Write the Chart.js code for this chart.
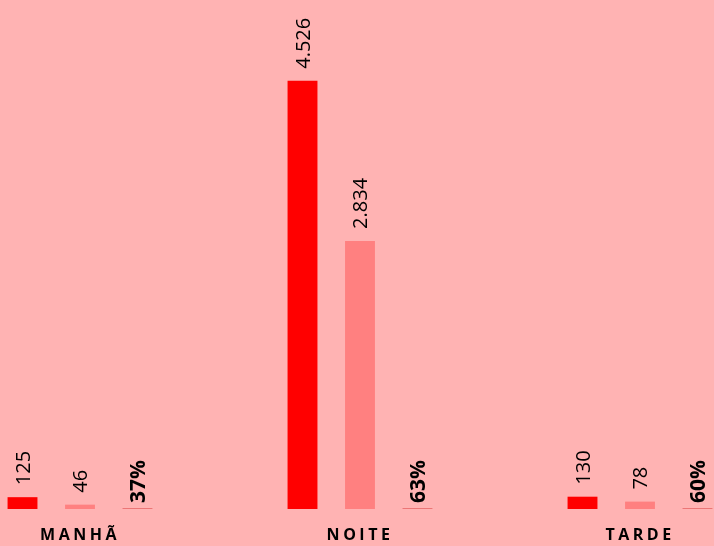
<!DOCTYPE html>
<html>
<head>
<meta charset="utf-8">
<script src="https://cdn.jsdelivr.net/npm/chart.js@4"></script>
<style>
  html, body { margin: 0; padding: 0; background: #FFB3B3; }
  #wrap { width: 714px; height: 546px; position: relative; }
</style>
</head>
<body>
<div id="wrap"><canvas id="turnos-chart"></canvas></div>
<script>
var turnos = ['MANHÃ', 'NOITE', 'TARDE'];

var total = [125, 4526, 130];
var parcial = [46, 2834, 78];
var percentual = [0.37, 0.63, 0.60];

function fmtNum(v) {
   return String(v).replace(/\B(?=(\d{3})+(?!\d))/g, '.');
}

function fmtPct(v) {
   return Math.round(v * 100) + '%';
}

// letter spaced axis labels, value labels drawn sideways over the bars
var rotLabels = {
   id: 'rotLabels',
   beforeDraw: function (chart) {
      chart.ctx.letterSpacing = '3.5px';
   },
   beforeDatasetsDraw: function (chart) {
      chart.ctx.letterSpacing = '0px';
   },
   afterDatasetsDraw: function (chart) {
      var ctx = chart.ctx;
      chart.data.datasets.forEach(function (ds, i) {
         var meta = chart.getDatasetMeta(i);
         meta.data.forEach(function (bar, j) {
            var v = ds.data[j];
            var txt = ds.pct ? fmtPct(v) : fmtNum(v);
            var size = ds.pct ? 21 : 20;
            ctx.save();
            ctx.letterSpacing = '0px';
            ctx.font = (ds.pct ? 'bold ' : '') + size + 'px "Open Sans"';
            ctx.fillStyle = '#000';
            ctx.translate(bar.x + size * 0.36, bar.y - (ds.pct ? 5 : 12));
            ctx.rotate(-Math.PI / 2);
            ctx.textAlign = 'left';
            ctx.textBaseline = 'alphabetic';
            ctx.fillText(txt, 0, 0);
            ctx.restore();
         });
      });
   }
};

var chart = new Chart(document.getElementById('turnos-chart'), {
   type: 'bar',
   data: {
      labels: turnos,
      datasets: [{
         label: 'Total',
         data: total,
         backgroundColor: '#FF0000',
         clip: false
      }, {
         label: 'Parcial',
         data: parcial,
         backgroundColor: '#FF8080',
         clip: false
      }, {
         label: '%',
         data: percentual,
         pct: true,
         backgroundColor: '#EC7676',
         minBarLength: 1,
         clip: false
      }]
   },
   options: {
      responsive: true,
      maintainAspectRatio: false,
      animation: false,
      categoryPercentage: 0.616,
      barPercentage: 0.52,
      layout: {
         padding: { left: 80, right: 74, top: 0, bottom: 0 }
      },
      plugins: {
         legend: { display: false },
         tooltip: { enabled: false }
      },
      scales: {
         x: {
            offset: false,
            grid: { display: false, drawTicks: false },
            border: { display: false },
            afterFit: function (scale) {
               scale.height = 37;
            },
            ticks: {
               color: '#000',
               padding: 17,
               font: { family: 'Open Sans', size: 16, weight: 'bold' }
            }
         },
         y: {
            display: false,
            min: 0,
            max: 5380
         }
      }
   },
   plugins: [rotLabels]
});
</script>
</body>
</html>
